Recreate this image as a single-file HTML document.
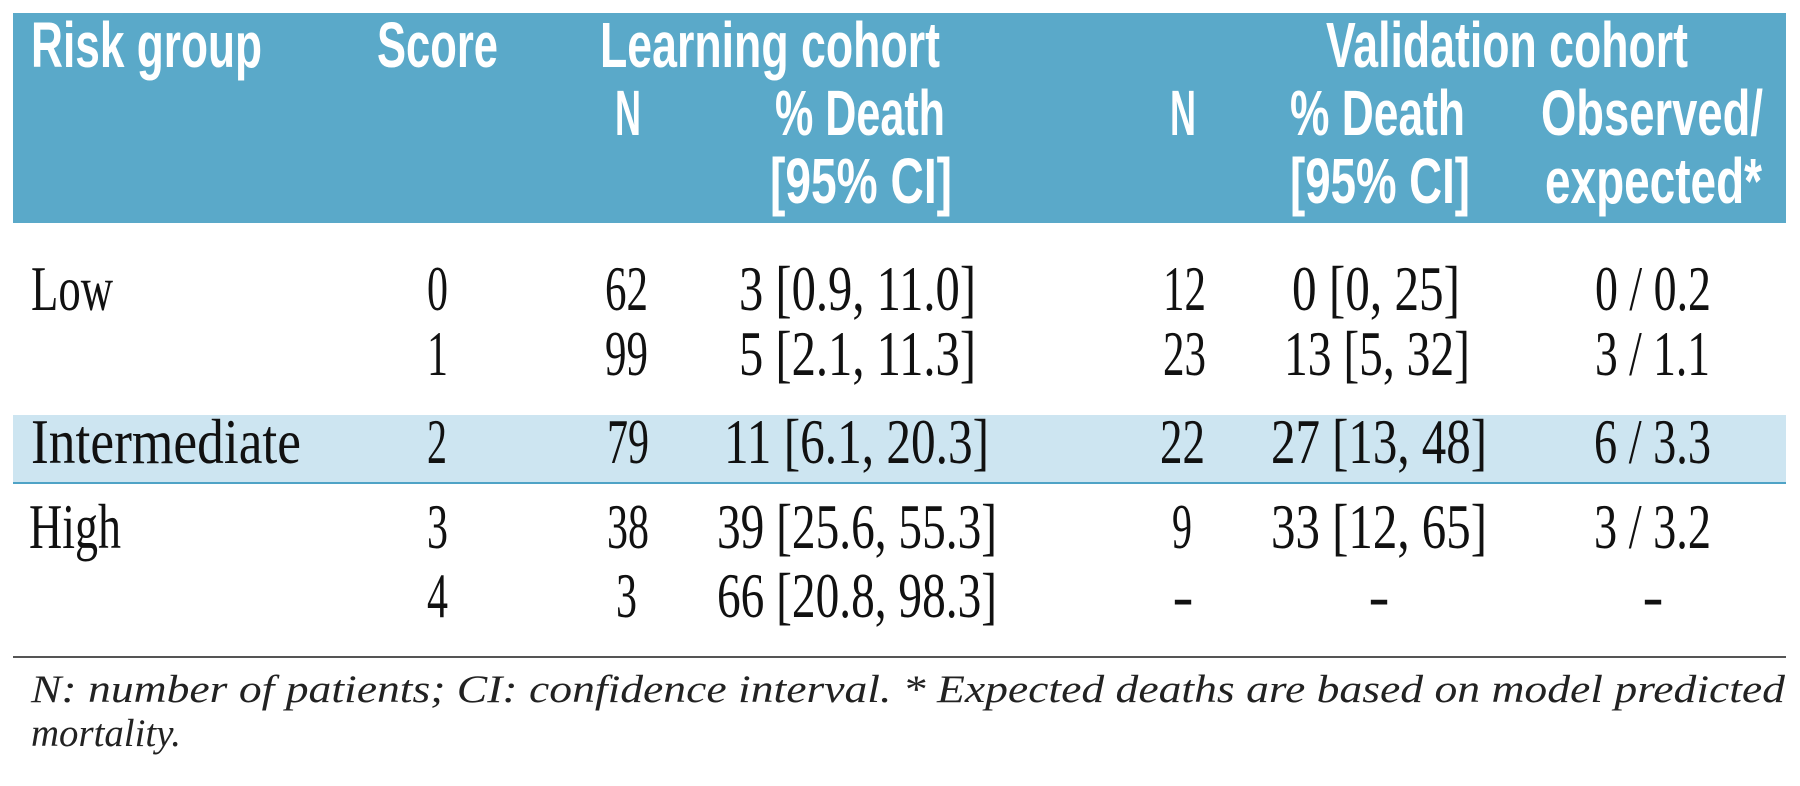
<!DOCTYPE html>
<html><head><meta charset="utf-8"><style>
html,body{margin:0;padding:0;background:#fff;}
svg{display:block;}
.h{font-family:"Liberation Sans Narrow","Liberation Sans",sans-serif;font-weight:bold;font-size:64px;fill:#fff;}
.b{font-family:"Liberation Serif",serif;font-size:63px;fill:#111;}
.f{font-family:"Liberation Serif",serif;font-style:italic;font-size:39px;fill:#222;}
</style></head><body>
<svg width="1800" height="786" viewBox="0 0 1800 786" xmlns="http://www.w3.org/2000/svg">
<rect x="13" y="13" width="1773" height="210" fill="#5aa9c9"/>
<rect x="13" y="415" width="1773" height="68" fill="#cde5f1"/>
<rect x="13" y="482" width="1773" height="2" fill="#4fa3c6"/>
<rect x="13" y="656" width="1773" height="2" fill="#555"/>

<g>
<text class="h" x="31" y="67" textLength="231" lengthAdjust="spacingAndGlyphs">Risk group</text>
<text class="h" x="377" y="67" textLength="121" lengthAdjust="spacingAndGlyphs">Score</text>
<text class="h" x="600" y="67" textLength="340" lengthAdjust="spacingAndGlyphs">Learning cohort</text>
<text class="h" x="1326" y="67" textLength="362" lengthAdjust="spacingAndGlyphs">Validation cohort</text>
<text class="h" x="615" y="135" textLength="26" lengthAdjust="spacingAndGlyphs">N</text>
<text class="h" x="775" y="135" textLength="170" lengthAdjust="spacingAndGlyphs">% Death</text>
<text class="h" x="770" y="203" textLength="182" lengthAdjust="spacingAndGlyphs">[95% CI]</text>
<text class="h" x="1170" y="135" textLength="26" lengthAdjust="spacingAndGlyphs">N</text>
<text class="h" x="1290" y="135" textLength="175" lengthAdjust="spacingAndGlyphs">% Death</text>
<text class="h" x="1290" y="203" textLength="180" lengthAdjust="spacingAndGlyphs">[95% CI]</text>
<text class="h" x="1541" y="135" textLength="222" lengthAdjust="spacingAndGlyphs">Observed/</text>
<text class="h" x="1545" y="203" textLength="217" lengthAdjust="spacingAndGlyphs">expected*</text>
</g>

<g>
<text class="b" x="31" y="310" textLength="82" lengthAdjust="spacingAndGlyphs">Low</text>
<text class="b" x="427" y="310" textLength="21" lengthAdjust="spacingAndGlyphs">0</text>
<text class="b" x="605" y="310" textLength="43" lengthAdjust="spacingAndGlyphs">62</text>
<text class="b" x="739" y="310" textLength="237" lengthAdjust="spacingAndGlyphs">3 [0.9, 11.0]</text>
<text class="b" x="1163" y="310" textLength="43" lengthAdjust="spacingAndGlyphs">12</text>
<text class="b" x="1292" y="310" textLength="168" lengthAdjust="spacingAndGlyphs">0 [0, 25]</text>
<text class="b" x="1595" y="310" textLength="116" lengthAdjust="spacingAndGlyphs">0 / 0.2</text>
</g>
<g>
<text class="b" x="427" y="375" textLength="21" lengthAdjust="spacingAndGlyphs">1</text>
<text class="b" x="605" y="375" textLength="43" lengthAdjust="spacingAndGlyphs">99</text>
<text class="b" x="739" y="375" textLength="237" lengthAdjust="spacingAndGlyphs">5 [2.1, 11.3]</text>
<text class="b" x="1163" y="375" textLength="43" lengthAdjust="spacingAndGlyphs">23</text>
<text class="b" x="1284" y="375" textLength="186" lengthAdjust="spacingAndGlyphs">13 [5, 32]</text>
<text class="b" x="1595" y="375" textLength="115" lengthAdjust="spacingAndGlyphs">3 / 1.1</text>
</g>
<g>
<text class="b" x="31" y="463" textLength="270" lengthAdjust="spacingAndGlyphs">Intermediate</text>
<text class="b" x="427" y="463" textLength="20" lengthAdjust="spacingAndGlyphs">2</text>
<text class="b" x="607" y="463" textLength="42" lengthAdjust="spacingAndGlyphs">79</text>
<text class="b" x="724" y="463" textLength="265" lengthAdjust="spacingAndGlyphs">11 [6.1, 20.3]</text>
<text class="b" x="1160" y="463" textLength="45" lengthAdjust="spacingAndGlyphs">22</text>
<text class="b" x="1271" y="463" textLength="216" lengthAdjust="spacingAndGlyphs">27 [13, 48]</text>
<text class="b" x="1594" y="463" textLength="117" lengthAdjust="spacingAndGlyphs">6 / 3.3</text>
</g>
<g>
<text class="b" x="29" y="548" textLength="92" lengthAdjust="spacingAndGlyphs">High</text>
<text class="b" x="427" y="548" textLength="21" lengthAdjust="spacingAndGlyphs">3</text>
<text class="b" x="607" y="548" textLength="42" lengthAdjust="spacingAndGlyphs">38</text>
<text class="b" x="717" y="548" textLength="280" lengthAdjust="spacingAndGlyphs">39 [25.6, 55.3]</text>
<text class="b" x="1172" y="548" textLength="20" lengthAdjust="spacingAndGlyphs">9</text>
<text class="b" x="1271" y="548" textLength="216" lengthAdjust="spacingAndGlyphs">33 [12, 65]</text>
<text class="b" x="1594" y="548" textLength="117" lengthAdjust="spacingAndGlyphs">3 / 3.2</text>
</g>
<g>
<text class="b" x="427" y="617" textLength="21" lengthAdjust="spacingAndGlyphs">4</text>
<text class="b" x="616" y="617" textLength="21" lengthAdjust="spacingAndGlyphs">3</text>
<text class="b" x="717" y="617" textLength="280" lengthAdjust="spacingAndGlyphs">66 [20.8, 98.3]</text>
<text class="b" x="1183" y="617" text-anchor="middle">-</text>
<text class="b" x="1379" y="617" text-anchor="middle">-</text>
<text class="b" x="1653" y="617" text-anchor="middle">-</text>
</g>

<text class="f" x="31" y="702" textLength="1754" lengthAdjust="spacingAndGlyphs">N: number of patients; CI: confidence interval. * Expected deaths are based on model predicted</text>
<text class="f" x="31" y="746" textLength="150" lengthAdjust="spacingAndGlyphs">mortality.</text>
</svg>
</body></html>
